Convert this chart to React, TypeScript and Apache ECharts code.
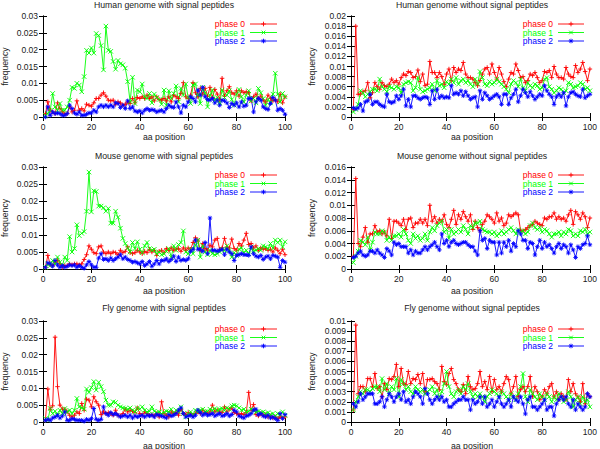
import React, { useEffect, useRef } from "react";
import * as echarts from "echarts";

const positions = Array.from({ length: 100 }, (_, i) => i + 1);
const phaseNames = ["phase 0", "phase 1", "phase 2"];
const phaseColors = ["#ff0000", "#00ff00", "#0000ff"];
const xTickStep = 20;

const humanSP0 = [
  0.001,0.0045,0.002,0.0015,0.001,0.0042,0.0025,0.0015,0.001,0.001,
  0.003,0.0015,0.002,0.0048,0.002,0.0025,0.0018,0.0038,0.0035,0.0032,
  0.0042,0.0055,0.0055,0.0065,0.0072,0.0062,0.005,0.0048,0.005,0.0038,
  0.0045,0.0042,0.0035,0.0038,0.0045,0.004,0.0055,0.0042,0.0058,0.0055,
  0.006,0.0055,0.0065,0.0055,0.006,0.0048,0.006,0.0052,0.005,0.0055,
  0.0048,0.006,0.0045,0.0065,0.006,0.0055,0.007,0.0102,0.006,0.0055,
  0.0065,0.0102,0.0072,0.006,0.0085,0.0068,0.0085,0.0062,0.0088,0.0058,
  0.0082,0.0068,0.0052,0.0115,0.0062,0.0078,0.009,0.0072,0.0068,0.0078,
  0.0062,0.0078,0.0072,0.0075,0.0072,0.0048,0.006,0.0068,0.0055,0.0062,
  0.005,0.0045,0.0065,0.0055,0.0048,0.0052,0.0045,0.0068,0.0042,0.006,
];
const humanSP1 = [
  0.0005,0.001,0.002,0.007,0.003,0.002,0.004,0.002,0.002,0.003,
  0.005,0.0088,0.0085,0.01,0.0095,0.0075,0.012,0.0198,0.019,0.0205,
  0.019,0.0248,0.0242,0.0212,0.014,0.027,0.0198,0.0195,0.0165,0.0142,
  0.0168,0.0158,0.0155,0.0145,0.0105,0.0045,0.0118,0.004,0.008,0.0075,
  0.0098,0.006,0.0055,0.007,0.0042,0.0068,0.0058,0.0052,0.0038,0.008,
  0.0035,0.0078,0.0055,0.007,0.0092,0.0045,0.0085,0.0065,0.0098,0.0058,
  0.004,0.0095,0.0098,0.0065,0.004,0.0088,0.0072,0.003,0.0065,0.008,
  0.005,0.0058,0.0042,0.008,0.0058,0.0065,0.0078,0.0052,0.0035,0.0068,
  0.0082,0.006,0.0045,0.0065,0.0078,0.0048,0.0055,0.0042,0.0085,0.0072,
  0.0055,0.0035,0.0052,0.0042,0.0068,0.013,0.0068,0.0045,0.007,0.006,
];
const humanSP2 = [
  0,0.003,0.0005,0.0015,0.001,0.0012,0.001,0.0005,0.0005,0.001,
  0.0035,0.0025,0.0012,0.0008,0.0015,0.0005,0.0005,0.0008,0.0012,0.0012,
  0.002,0.0015,0.003,0.0035,0.003,0.0035,0.003,0.0035,0.003,0.0042,
  0.004,0.0028,0.0035,0.0025,0.0048,0.0025,0.003,0.0018,0.0015,0.0018,
  0.0012,0.002,0.0025,0.002,0.0022,0.002,0.0015,0.0018,0.002,0.0015,
  0.0025,0.0035,0.003,0.0028,0.0045,0.003,0.0012,0.0035,0.003,0.0045,
  0.006,0.0055,0.0045,0.008,0.0065,0.0088,0.006,0.0052,0.005,0.0055,
  0.0042,0.005,0.0035,0.005,0.0048,0.0042,0.0028,0.004,0.0035,0.0042,
  0.003,0.0045,0.0032,0.0035,0.0055,0.0055,0.0015,0.0045,0.0055,0.005,
  0.003,0.0025,0.0022,0.004,0.0058,0.005,0.002,0.0025,0.002,0.0008,
];

const humanNo0 = [
  0.0015,0.018,0.0045,0.0045,0.005,0.0052,0.0068,0.0038,0.0048,0.0068,
  0.006,0.0055,0.0068,0.0062,0.006,0.0065,0.0075,0.0068,0.0072,0.0065,
  0.0078,0.0085,0.0082,0.009,0.0088,0.0078,0.008,0.0093,0.007,0.0085,
  0.0062,0.0065,0.011,0.0088,0.0088,0.0078,0.0088,0.008,0.0065,0.0085,
  0.0095,0.0072,0.0098,0.0088,0.0095,0.0092,0.0108,0.0085,0.0078,0.0078,
  0.0075,0.0068,0.0062,0.0072,0.0085,0.0095,0.0098,0.0085,0.0105,0.0088,
  0.0075,0.0098,0.0085,0.007,0.006,0.0075,0.0088,0.0085,0.0105,0.0092,
  0.0078,0.008,0.0068,0.0072,0.0085,0.0082,0.0088,0.0078,0.0068,0.0072,
  0.009,0.0088,0.0092,0.0078,0.01,0.0085,0.0078,0.0078,0.0075,0.0098,
  0.0085,0.008,0.0078,0.0102,0.0088,0.0095,0.0108,0.009,0.0072,0.0095,
];
const humanNo1 = [
  0.001,0.0015,0.0025,0.0052,0.0048,0.004,0.0045,0.005,0.0055,0.0055,
  0.0052,0.0075,0.006,0.0055,0.005,0.006,0.0058,0.0055,0.006,0.0058,
  0.0048,0.0065,0.0068,0.007,0.0068,0.0052,0.0058,0.0078,0.0055,0.005,
  0.0052,0.0055,0.0058,0.0065,0.0052,0.0072,0.0062,0.0065,0.0058,0.007,
  0.0065,0.0075,0.0068,0.0078,0.0065,0.0072,0.0075,0.0068,0.0072,0.0065,
  0.006,0.0075,0.0065,0.009,0.0078,0.0065,0.0062,0.007,0.0065,0.0068,
  0.0075,0.007,0.0065,0.006,0.0055,0.0048,0.0065,0.0072,0.0068,0.006,
  0.0075,0.0058,0.0052,0.0068,0.0062,0.0058,0.0065,0.0062,0.0055,0.0058,
  0.0075,0.0078,0.006,0.0055,0.0048,0.0052,0.0058,0.0055,0.0048,0.0052,
  0.0068,0.0065,0.0058,0.006,0.0062,0.0068,0.0065,0.0055,0.0058,0.0052,
];
const humanNo2 = [
  0.0018,0.0016,0.0018,0.0025,0.0012,0.003,0.0032,0.0045,0.0025,0.003,
  0.003,0.0025,0.0022,0.002,0.0045,0.003,0.0028,0.003,0.0042,0.0035,
  0.0042,0.0055,0.0022,0.0035,0.002,0.0042,0.0042,0.0038,0.0035,0.0038,
  0.004,0.0038,0.0025,0.0052,0.0035,0.0055,0.0038,0.0042,0.0038,0.004,
  0.0038,0.0062,0.0045,0.0048,0.0045,0.0052,0.0042,0.005,0.0042,0.0035,
  0.0038,0.004,0.002,0.0052,0.0035,0.0048,0.0042,0.0035,0.0038,0.0042,
  0.0045,0.004,0.0025,0.0045,0.0045,0.0025,0.0038,0.0045,0.0055,0.003,
  0.0042,0.0055,0.0048,0.004,0.005,0.0042,0.0035,0.004,0.0045,0.0042,
  0.0062,0.0052,0.0045,0.004,0.0025,0.004,0.0045,0.004,0.0048,0.0022,
  0.004,0.0048,0.005,0.0045,0.0042,0.004,0.0055,0.0038,0.0042,0.0045,
];

const mouseSP0 = [
  0.0005,0.004,0.0012,0.001,0.002,0.0025,0.0015,0.0005,0.001,0.001,
  0.0015,0.0012,0.0015,0.0015,0.0012,0.0015,0.0028,0.0042,0.0068,0.0058,
  0.0048,0.0045,0.0065,0.0068,0.005,0.0045,0.005,0.0045,0.005,0.0048,
  0.0042,0.0055,0.0048,0.0052,0.0065,0.0048,0.0045,0.0048,0.0055,0.005,
  0.0045,0.0052,0.0048,0.0058,0.005,0.0055,0.004,0.0052,0.0055,0.0048,
  0.006,0.0055,0.0062,0.0055,0.0058,0.006,0.0052,0.0062,0.0055,0.0062,
  0.0058,0.0078,0.0092,0.0085,0.0055,0.0075,0.006,0.0055,0.007,0.0065,
  0.0085,0.009,0.0058,0.0062,0.009,0.0065,0.0062,0.0088,0.006,0.0055,
  0.0075,0.0068,0.0085,0.0105,0.0072,0.0075,0.0062,0.0068,0.0055,0.0062,
  0.0058,0.006,0.0055,0.0058,0.005,0.0062,0.0055,0.0045,0.0058,0.0042,
];
const mouseSP1 = [
  0.0005,0.0015,0.001,0.0025,0.0015,0.0035,0.002,0.001,0.0035,0.0025,
  0.0095,0.005,0.006,0.013,0.0098,0.0105,0.011,0.017,0.0285,0.0168,
  0.023,0.0228,0.0185,0.0185,0.018,0.017,0.0178,0.0135,0.0135,0.017,
  0.0152,0.012,0.009,0.0075,0.0062,0.005,0.0078,0.006,0.008,0.0058,
  0.0048,0.0068,0.0078,0.006,0.0055,0.0058,0.0045,0.005,0.0042,0.0045,
  0.0052,0.006,0.0035,0.0068,0.0055,0.0072,0.0078,0.0112,0.005,0.0045,
  0.0058,0.0045,0.007,0.0085,0.0035,0.0068,0.005,0.0042,0.0055,0.0045,
  0.0042,0.0045,0.005,0.0058,0.0055,0.0068,0.0055,0.0035,0.0048,0.004,
  0.0058,0.0062,0.0048,0.0055,0.0045,0.0065,0.0052,0.0055,0.006,0.0055,
  0.0068,0.0065,0.006,0.0075,0.0062,0.0085,0.0078,0.0085,0.0065,0.008,
];
const mouseSP2 = [
  0.0005,0.0018,0.0015,0.0008,0.0025,0.0012,0.0005,0.001,0.0005,0.0008,
  0.0012,0.001,0.0012,0.0005,0.001,0.0005,0.0002,0.0012,0.0022,0.0012,
  0.0005,0.0005,0.0032,0.0045,0.0028,0.003,0.0025,0.0032,0.0025,0.003,
  0.0035,0.0042,0.003,0.0035,0.0028,0.0025,0.002,0.0022,0.0018,0.0015,
  0.0022,0.001,0.0015,0.0022,0.0008,0.0015,0.0025,0.0015,0.0025,0.0025,
  0.003,0.0022,0.0028,0.0038,0.0022,0.0035,0.0025,0.0028,0.0025,0.003,
  0.0052,0.0058,0.0085,0.0058,0.0058,0.0052,0.0078,0.0045,0.015,0.0055,
  0.0055,0.0052,0.0055,0.0058,0.0042,0.0058,0.005,0.0045,0.0025,0.004,
  0.0042,0.0045,0.0042,0.0042,0.004,0.0065,0.0045,0.0038,0.0035,0.004,
  0.0028,0.0035,0.0038,0.003,0.004,0.0038,0.0035,0.0005,0.0025,0.002,
];

const mouseNo0 = [
  0.002,0.0142,0.004,0.0035,0.005,0.0065,0.0042,0.0055,0.0055,0.0068,
  0.0058,0.006,0.0055,0.0058,0.0052,0.0078,0.0048,0.0075,0.0075,0.0072,
  0.0068,0.0078,0.0062,0.0078,0.008,0.0065,0.0072,0.0072,0.0078,0.0072,
  0.0078,0.0068,0.01,0.0075,0.0082,0.0072,0.0078,0.0075,0.0085,0.007,
  0.0065,0.0078,0.0092,0.007,0.0085,0.0078,0.009,0.0082,0.0075,0.0085,
  0.0062,0.0075,0.0065,0.006,0.007,0.0075,0.0085,0.0082,0.0078,0.0072,
  0.0088,0.0075,0.008,0.0068,0.0072,0.0085,0.0082,0.0085,0.0088,0.0085,
  0.006,0.006,0.0062,0.0065,0.0068,0.007,0.0075,0.0072,0.007,0.0068,
  0.008,0.0078,0.0082,0.0082,0.0088,0.0078,0.0082,0.0078,0.008,0.0075,
  0.0085,0.0092,0.007,0.009,0.0085,0.0078,0.0088,0.0082,0.0065,0.008,
];
const mouseNo1 = [
  0.001,0.002,0.0028,0.0045,0.0042,0.0038,0.005,0.003,0.0042,0.0058,
  0.0055,0.0055,0.006,0.0058,0.0045,0.005,0.0045,0.0052,0.0052,0.0055,
  0.005,0.0062,0.0055,0.0045,0.004,0.0055,0.0048,0.0052,0.0045,0.0048,
  0.0055,0.0045,0.0058,0.0065,0.006,0.0068,0.0072,0.0075,0.0058,0.0062,
  0.0048,0.0062,0.0055,0.0058,0.0062,0.0058,0.0068,0.0062,0.0055,0.0068,
  0.0065,0.0072,0.0072,0.0075,0.0062,0.006,0.0058,0.0058,0.0055,0.0058,
  0.0052,0.0055,0.006,0.0055,0.0058,0.0062,0.0065,0.006,0.0055,0.0062,
  0.0058,0.006,0.0055,0.0058,0.0068,0.0072,0.0065,0.0062,0.0065,0.0058,
  0.0062,0.006,0.0055,0.005,0.0055,0.0055,0.0058,0.0052,0.0058,0.0055,
  0.0062,0.006,0.0052,0.0055,0.0052,0.006,0.0058,0.0062,0.0055,0.0058,
];
const mouseNo2 = [
  0.0018,0.002,0.0025,0.0028,0.0022,0.002,0.0022,0.0028,0.0028,0.0025,
  0.003,0.0025,0.0022,0.0018,0.0032,0.0028,0.0022,0.0042,0.0038,0.004,
  0.0035,0.0035,0.0035,0.0025,0.003,0.0022,0.0028,0.0025,0.0025,0.003,
  0.0035,0.003,0.0035,0.0038,0.0042,0.0035,0.003,0.0055,0.004,0.0045,
  0.0035,0.0042,0.0045,0.004,0.0038,0.004,0.0042,0.0042,0.0038,0.0035,
  0.0035,0.0028,0.0022,0.006,0.0045,0.0048,0.0032,0.0045,0.0042,0.0042,
  0.0022,0.0042,0.0025,0.0042,0.0035,0.0045,0.0028,0.004,0.0035,0.006,
  0.0055,0.0045,0.0045,0.0032,0.0042,0.004,0.0022,0.0035,0.0045,0.0032,
  0.0042,0.0035,0.0038,0.0032,0.0025,0.0035,0.004,0.0032,0.0038,0.0035,
  0.0025,0.0038,0.003,0.0018,0.0035,0.0032,0.0038,0.004,0.0052,0.0038,
];

const flySP0 = [
  0.0005,0.0098,0.0038,0.0048,0.0252,0.0105,0.005,0.0038,0.0038,0.003,
  0.002,0.0015,0.002,0.003,0.0025,0.0055,0.0035,0.0068,0.0065,0.0045,
  0.0075,0.006,0.005,0.0022,0.003,0.0025,0.0028,0.0025,0.002,0.0035,
  0.002,0.0018,0.0025,0.0038,0.003,0.0035,0.0032,0.0028,0.0042,0.0025,
  0.002,0.003,0.0025,0.002,0.0022,0.0018,0.0025,0.0015,0.006,0.0025,
  0.002,0.0015,0.003,0.0025,0.0028,0.002,0.0038,0.0025,0.0022,0.0028,
  0.0025,0.002,0.0025,0.003,0.0025,0.0035,0.0028,0.0025,0.003,0.005,
  0.003,0.0035,0.003,0.0028,0.0045,0.003,0.0038,0.0042,0.0028,0.0025,
  0.0022,0.0025,0.0022,0.0028,0.0088,0.0035,0.0052,0.0022,0.0018,0.0025,
  0.002,0.0022,0.0015,0.0018,0.0012,0.0015,0.001,0.0015,0.0012,0.0015,
];
const flySP1 = [
  0.001,0.0005,0.004,0.0025,0.0032,0.002,0.0035,0.0025,0.004,0.003,
  0.0035,0.0025,0.0035,0.007,0.0045,0.0042,0.0038,0.0098,0.0088,0.0102,
  0.012,0.0095,0.0118,0.0105,0.009,0.0065,0.005,0.005,0.006,0.0058,
  0.005,0.0045,0.0042,0.004,0.0038,0.0042,0.0035,0.003,0.0042,0.0038,
  0.0045,0.0035,0.003,0.0032,0.0045,0.0032,0.0028,0.003,0.0025,0.0028,
  0.0032,0.003,0.0038,0.0025,0.0035,0.003,0.0045,0.0025,0.0015,0.0025,
  0.003,0.0022,0.0035,0.003,0.0035,0.0038,0.003,0.0032,0.0038,0.0035,
  0.004,0.0035,0.0038,0.004,0.0035,0.0042,0.0038,0.0048,0.005,0.0048,
  0.0042,0.0035,0.0038,0.003,0.0032,0.0038,0.0035,0.003,0.0032,0.0028,
  0.003,0.0025,0.0028,0.0022,0.0025,0.0018,0.0025,0.0022,0.003,0.002,
];
const flySP2 = [
  0.0005,0.0008,0.0005,0.0012,0.0015,0.002,0.0012,0.0018,0.003,0.0005,
  0.0005,0.001,0.0008,0.0005,0.0005,0.0005,0.0002,0.0008,0.0005,0.001,
  0.004,0.0008,0.0005,0.0008,0.0045,0.0025,0.002,0.0028,0.0022,0.0025,
  0.002,0.0015,0.0018,0.002,0.0015,0.002,0.0012,0.0018,0.0015,0.0018,
  0.002,0.0015,0.002,0.0018,0.002,0.0015,0.0022,0.002,0.0018,0.0015,
  0.0012,0.0022,0.0018,0.002,0.0025,0.0035,0.0042,0.0025,0.0015,0.0018,
  0.002,0.0015,0.002,0.0035,0.0028,0.002,0.0025,0.002,0.0022,0.0025,
  0.0018,0.0022,0.0025,0.0018,0.002,0.0025,0.0018,0.0022,0.0035,0.003,
  0.0018,0.0015,0.0012,0.0018,0.002,0.0025,0.0035,0.0038,0.0022,0.0025,
  0.0018,0.0015,0.002,0.0012,0.0015,0.001,0.0005,0.0025,0.001,0.0022,
];

const flyNo0 = [
  0.0012,0.0096,0.0028,0.0035,0.0035,0.003,0.0043,0.0043,0.0035,0.0048,
  0.0033,0.0035,0.0025,0.0038,0.0032,0.0043,0.0042,0.0045,0.0057,0.0035,
  0.0053,0.0038,0.0037,0.005,0.0038,0.0043,0.0042,0.0047,0.0038,0.0048,
  0.003,0.0042,0.0042,0.0043,0.004,0.0038,0.0032,0.0055,0.004,0.0037,
  0.0048,0.0053,0.0042,0.0038,0.0032,0.003,0.0037,0.0028,0.0045,0.0035,
  0.0032,0.0033,0.0038,0.005,0.0035,0.004,0.0032,0.0045,0.003,0.0042,
  0.0032,0.0035,0.003,0.0038,0.0045,0.0042,0.0028,0.0035,0.0045,0.0025,
  0.0032,0.0035,0.003,0.0035,0.0045,0.0025,0.0035,0.003,0.0022,0.0025,
  0.0032,0.0028,0.0035,0.0038,0.0025,0.003,0.0022,0.0028,0.0025,0.0022,
  0.0042,0.003,0.0038,0.0028,0.0025,0.002,0.0038,0.0018,0.0028,0.0025,
];
const flyNo1 = [
  0.0012,0.002,0.0025,0.003,0.0028,0.0032,0.0032,0.003,0.0033,0.0035,
  0.0035,0.003,0.0043,0.0032,0.0038,0.0028,0.0035,0.0032,0.0043,0.0025,
  0.0042,0.0038,0.0032,0.0035,0.003,0.0028,0.0035,0.0032,0.003,0.0032,
  0.0028,0.003,0.0032,0.0035,0.0028,0.0032,0.0025,0.003,0.0038,0.005,
  0.0035,0.0028,0.0025,0.003,0.0032,0.0028,0.0035,0.0032,0.0038,0.003,
  0.0025,0.0028,0.0025,0.0028,0.0025,0.002,0.0025,0.0028,0.0032,0.003,
  0.0028,0.0025,0.003,0.0028,0.0025,0.0022,0.0028,0.0025,0.0022,0.0028,
  0.0035,0.0048,0.0025,0.002,0.0032,0.0028,0.0025,0.0022,0.0028,0.0025,
  0.0022,0.0028,0.0025,0.002,0.0025,0.0022,0.0028,0.0025,0.002,0.0022,
  0.003,0.0025,0.0015,0.0022,0.0025,0.0018,0.0025,0.002,0.0022,0.0015,
];
const flyNo2 = [
  0.0018,0.0015,0.002,0.0028,0.0022,0.0025,0.0028,0.0028,0.0028,0.0018,
  0.0018,0.002,0.0025,0.0015,0.0022,0.0028,0.0025,0.002,0.0025,0.0028,
  0.0022,0.003,0.002,0.0022,0.0018,0.0025,0.003,0.0028,0.0025,0.0018,
  0.0033,0.0028,0.0022,0.0018,0.0022,0.0025,0.0022,0.0025,0.002,0.0022,
  0.0015,0.0015,0.0018,0.002,0.0022,0.0022,0.0025,0.0022,0.0022,0.0012,
  0.0022,0.0018,0.002,0.0025,0.0018,0.0025,0.0015,0.0018,0.0022,0.0015,
  0.002,0.0025,0.0018,0.0015,0.0018,0.0022,0.0015,0.0025,0.0022,0.002,
  0.0025,0.0018,0.0008,0.0022,0.0025,0.0015,0.0015,0.0012,0.0015,0.0018,
  0.0022,0.0012,0.0015,0.0015,0.0006,0.0018,0.0022,0.0025,0.0022,0.0025,
  0.0018,0.0015,0.0022,0.0012,0.0018,0.0015,0.0012,0.0015,0.0028,0.0025,
];

const panelTitles = [
  "Human genome with signal peptides",
  "Human genome without signal peptides",
  "Mouse genome with signal peptides",
  "Mouse genome without signal peptides",
  "Fly genome with signal peptides",
  "Fly genome without signal peptides",
];
const panelYMax = [0.03, 0.02, 0.03, 0.016, 0.03, 0.01];
const panelYStep = [0.005, 0.002, 0.005, 0.002, 0.005, 0.001];
const panelSeries = [
  [humanSP0, humanSP1, humanSP2],
  [humanNo0, humanNo1, humanNo2],
  [mouseSP0, mouseSP1, mouseSP2],
  [mouseNo0, mouseNo1, mouseNo2],
  [flySP0, flySP1, flySP2],
  [flyNo0, flyNo1, flyNo2],
];

const FONT = "Liberation Sans, Arial, Helvetica, sans-serif";
const TXT = "#1a1a1a";
const symbols = [
  "path://M0,5L10,5M5,0L5,10",
  "path://M1,1L9,9M9,1L1,9",
  "path://M0,5L10,5M5,0L5,10M1.5,1.5L8.5,8.5M8.5,1.5L1.5,8.5",
];
// legend marker strokes (unit offsets, scaled by half-size)
const markerStrokes = [
  [[-1, 0, 1, 0], [0, -1, 0, 1]],
  [[-0.8, -0.8, 0.8, 0.8], [0.8, -0.8, -0.8, 0.8]],
  [[-1, 0, 1, 0], [0, -1, 0, 1], [-0.7, -0.7, 0.7, 0.7], [0.7, -0.7, -0.7, 0.7]],
];

const gridLayout = [
  { left: 43, top: 16, width: 242, height: 101 },
  { left: 351, top: 16, width: 242, height: 101 },
  { left: 43, top: 167, width: 242, height: 102 },
  { left: 351, top: 167, width: 242, height: 102 },
  { left: 43, top: 321, width: 242, height: 101 },
  { left: 351, top: 321, width: 242, height: 101 },
];

function fmt(v: number) {
  return String(parseFloat(v.toFixed(4)));
}

export default function App() {
  const ref = useRef<HTMLDivElement>(null);
  useEffect(() => {
    if (!ref.current) return;
    const chart = echarts.init(ref.current, undefined, { renderer: "svg" });
    const grid: any[] = [];
    const xAxis: any[] = [];
    const yAxis: any[] = [];
    const series: any[] = [];
    const graphic: any[] = [];
    const lineAx = { lineStyle: { color: "#000", width: 1 } };
    const tickAx = { inside: true, length: 4, lineStyle: { color: "#000", width: 1 } };
    gridLayout.forEach((g, i) => {
      grid.push({ ...g, containLabel: false });
      const xBase = {
        type: "value",
        gridIndex: i,
        min: 0,
        max: 100,
        interval: xTickStep,
        axisLine: lineAx,
        axisTick: tickAx,
        splitLine: { show: false },
      };
      xAxis.push({
        ...xBase,
        position: "bottom",
        axisLabel: { fontSize: 8.5, color: TXT, fontFamily: FONT, margin: 5 },
      });
      xAxis.push({ ...xBase, position: "top", axisLabel: { show: false } });
      const yBase = {
        type: "value",
        gridIndex: i,
        min: 0,
        max: panelYMax[i],
        interval: panelYStep[i],
        axisLine: { show: true, ...lineAx },
        axisTick: tickAx,
        splitLine: { show: false },
      };
      yAxis.push({
        ...yBase,
        position: "left",
        axisLabel: { fontSize: 8.5, color: TXT, fontFamily: FONT, margin: 5, formatter: fmt },
      });
      yAxis.push({ ...yBase, position: "right", axisLabel: { show: false } });
      panelSeries[i].forEach((vals, k) => {
        series.push({
          type: "line",
          name: phaseNames[k],
          xAxisIndex: 2 * i,
          yAxisIndex: 2 * i,
          data: positions.map((p, j) => [p, vals[j]]),
          symbol: symbols[k],
          symbolSize: 4.5,
          showSymbol: true,
          showAllSymbol: true,
          lineStyle: { color: phaseColors[k], width: 0.9 },
          itemStyle: { color: "none", borderColor: phaseColors[k], borderWidth: 0.9 },
          emphasis: { disabled: true },
          silent: true,
        });
      });
      const isLeft = i % 2 === 0;
      const lx0 = isLeft ? 250 : 558;
      const lx1 = isLeft ? 277 : 584;
      const lmid = (lx0 + lx1) / 2;
      phaseNames.forEach((n, k) => {
        const ry = g.top + 8 + k * 8.5;
        graphic.push({
          type: "text",
          x: lx0 - 5,
          y: ry,
          silent: true,
          style: { text: n, fontSize: 8.5, fontFamily: FONT, fill: phaseColors[k], align: "right", verticalAlign: "middle" },
        });
        graphic.push({
          type: "line",
          silent: true,
          shape: { x1: lx0, y1: ry, x2: lx1, y2: ry },
          style: { stroke: phaseColors[k], lineWidth: 0.9 },
        });
        markerStrokes[k].forEach((s) => {
          graphic.push({
            type: "line",
            silent: true,
            shape: { x1: lmid + s[0] * 2.3, y1: ry + s[1] * 2.3, x2: lmid + s[2] * 2.3, y2: ry + s[3] * 2.3 },
            style: { stroke: phaseColors[k], lineWidth: 0.9 },
          });
        });
      });
      const cx = g.left + g.width / 2;
      const titleY = [4.5, 4.5, 156, 156, 308, 308][i];
      const nameY = [137, 137, 291, 291, 445.5, 445.5][i];
      graphic.push({
        type: "text",
        x: cx,
        y: titleY,
        silent: true,
        style: { text: panelTitles[i], fontSize: 8.7, fontFamily: FONT, fill: TXT, align: "center", verticalAlign: "middle" },
      });
      graphic.push({
        type: "text",
        x: cx,
        y: nameY,
        silent: true,
        style: { text: "aa position", fontSize: 8.7, fontFamily: FONT, fill: TXT, align: "center", verticalAlign: "middle" },
      });
      graphic.push({
        type: "text",
        x: isLeft ? 5 : 312,
        y: g.top + g.height / 2,
        rotation: Math.PI / 2,
        silent: true,
        style: { text: "frequency", fontSize: 8.7, fontFamily: FONT, fill: TXT, align: "center", verticalAlign: "middle" },
      });
    });
    chart.setOption({
      animation: false,
      backgroundColor: "#ffffff",
      grid,
      xAxis,
      yAxis,
      series,
      graphic,
    });
    return () => chart.dispose();
  }, []);
  return <div ref={ref} style={{ position: "absolute", left: 0, top: 0, width: 600, height: 449 }} />;
}
